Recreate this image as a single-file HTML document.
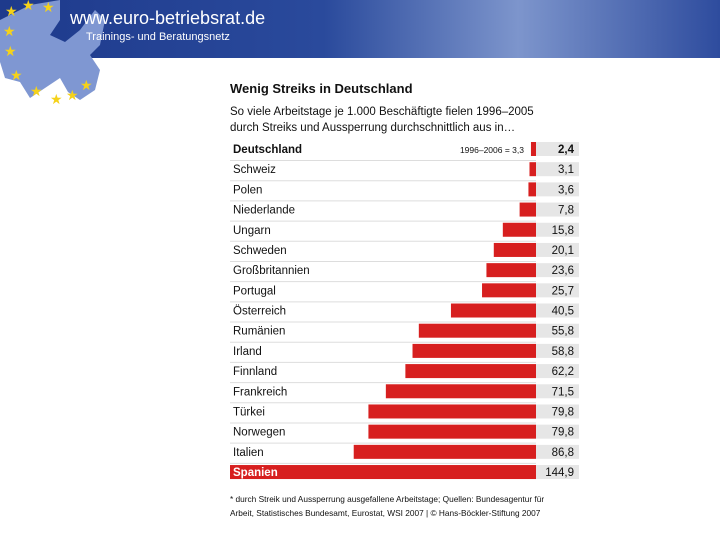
<!DOCTYPE html>
<html><head><meta charset="utf-8"><style>
body{margin:0;width:720px;height:540px;background:#fff;position:relative;overflow:hidden;font-family:"Liberation Sans",sans-serif}
.hdr{position:absolute;left:0;top:0;width:720px;height:58px;background:linear-gradient(90deg,#1e3a8c 0%,#2a4a9c 45%,#7d95cc 72%,#2e4c9e 100%)}
.t{position:absolute;color:#111}
</style></head><body>
<div class="hdr"></div>
<svg style="position:absolute;left:0;top:0" width="130" height="110">
<path d="M0,20 L30,5 L60,0 L60,20 L50,35 L65,42 L80,30 L95,10 L105,20 L100,45 L90,55 L100,70 L95,90 L80,100 L68,92 L60,78 L45,88 L30,98 L20,82 L5,78 L0,62Z" fill="#7f97d2"/>
<g fill="#f5d21a" font-size="14"><text x="5" y="16">★</text><text x="22" y="10">★</text><text x="42" y="12">★</text><text x="3" y="36">★</text><text x="4" y="56">★</text><text x="10" y="80">★</text><text x="30" y="96">★</text><text x="50" y="104">★</text><text x="66" y="100">★</text><text x="80" y="90">★</text></g>
</svg>
<div class="t" style="left:70px;top:8px;font-size:18px;color:#fff">www.euro-betriebsrat.de</div>
<div class="t" style="left:86px;top:31px;font-size:11px;color:#fff">Trainings- und Beratungsnetz</div>
<div class="t" style="left:230px;top:81px;font-size:13px;font-weight:bold">Wenig Streiks in Deutschland</div>
<div class="t" style="left:230px;top:104px;font-size:11.5px;line-height:16px">So viele Arbeitstage je 1.000 Beschäftigte fielen 1996–2005<br>durch Streiks und Aussperrung durchschnittlich aus in…</div>
<svg id="c" style="position:absolute;left:0;top:0" width="720" height="540"></svg>
<div class="t" style="left:230px;top:492px;font-size:8.3px;line-height:14px">* durch Streik und Aussperrung ausgefallene Arbeitstage; Quellen: Bundesagentur für<br>Arbeit, Statistisches Bundesamt, Eurostat, WSI 2007 | © Hans-Böckler-Stiftung 2007</div>
<script>
const categories=["Deutschland","Schweiz","Polen","Niederlande","Ungarn","Schweden","Großbritannien","Portugal","Österreich","Rumänien","Irland","Finnland","Frankreich","Türkei","Norwegen","Italien","Spanien"];
const values=[2.4,3.1,3.6,7.8,15.8,20.1,23.6,25.7,40.5,55.8,58.8,62.2,71.5,79.8,79.8,86.8,144.9];
const labels=["2,4","3,1","3,6","7,8","15,8","20,1","23,6","25,7","40,5","55,8","58,8","62,2","71,5","79,8","79,8","86,8","144,9"];
const svg=document.getElementById('c'),NS='http://www.w3.org/2000/svg';
const right=536,scale=v=>v*2.1,y=i=>142+i*20.19;
function mk(t,a){const e=document.createElementNS(NS,t);for(const k in a)e.setAttribute(k,a[k]);svg.appendChild(e);return e;}
categories.forEach((c,i)=>{
 const last=i===categories.length-1;
 const yy=y(i);
 if(!last){const l=mk('line',{x1:230,x2:536,y1:yy+18.5,y2:yy+18.5,stroke:'#ddd','stroke-width':1});
 
 }
 const bx=mk('rect',{x:536,y:yy,width:43,height:14,fill:'#e6e6e6'});
 
 
 const w=last?306:scale(values[i]);
 const b=mk('rect',{x:right-w,y:yy,width:w,height:14,fill:'#d71f1f'});
 
 
 const t=mk('text',{x:233,y:yy+11,'font-size':11.5,fill:last?'#fff':'#111','font-weight':(i===0||last)?'bold':'normal','font-family':'Liberation Sans'});
 t.textContent=c;
 
 
 const v=mk('text',{x:574,y:yy+11,'text-anchor':'end','font-size':11.5,fill:'#111','font-weight':i===0?'bold':'normal','font-family':'Liberation Sans'});
 v.textContent=labels[i];
 
 
});
const n=mk('text',{x:524,y:y(0)+11,'text-anchor':'end','font-size':8.5,fill:'#111','font-family':'Liberation Sans'});
n.textContent='1996–2006 = 3,3';


</script>
</body></html>
